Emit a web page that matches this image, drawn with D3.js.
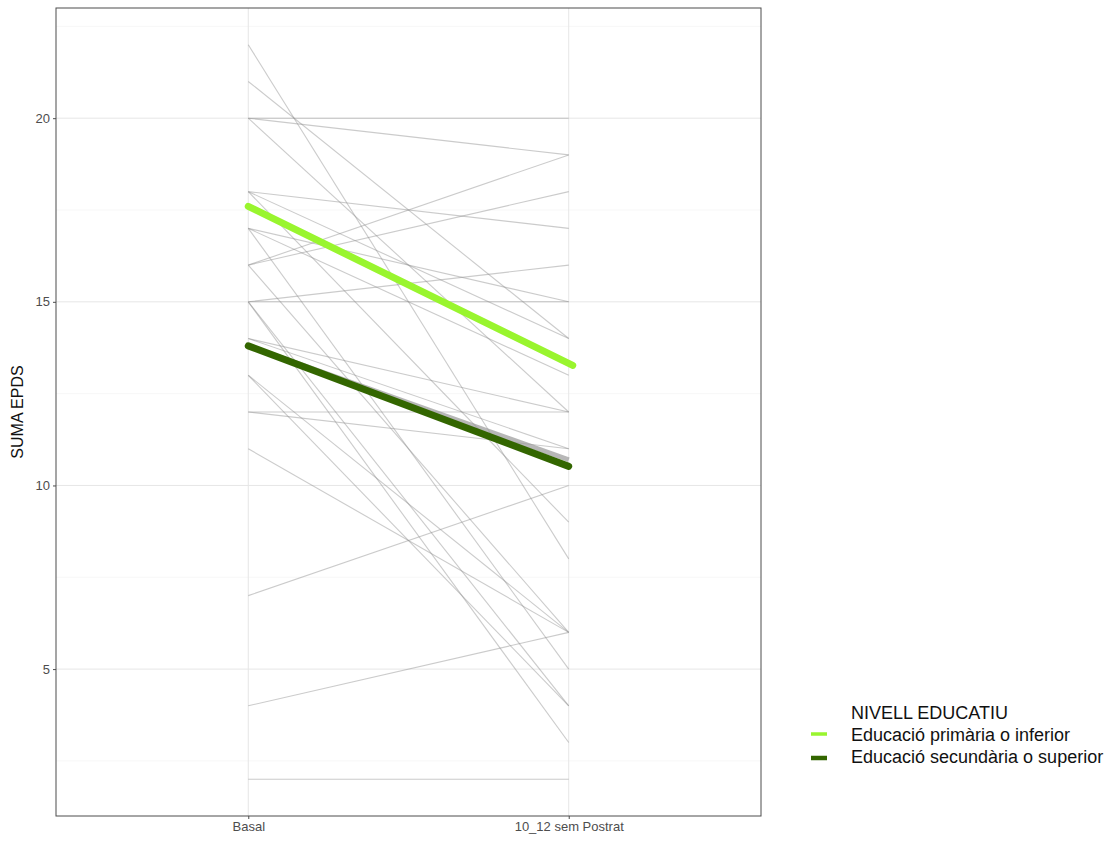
<!DOCTYPE html>
<html>
<head>
<meta charset="utf-8">
<script src="https://cdn.jsdelivr.net/npm/d3@7"></script>
<style>
  body { margin: 0; background: #fff; }
  text { font-family: "Liberation Sans", Arial, sans-serif; }
</style>
</head>
<body>
<div id="chart"></div>
<script>
// timepoints on the x axis
const times = ["Basal", "10_12 sem Postrat"];

// individual EPDS scores: [basal, postpartum]
const basalScores = [22, 21, 20, 20, 20, 18, 18, 18, 17, 17, 17, 16, 16, 16, 15, 15, 15, 15, 14, 14, 13, 13, 12, 12, 11, 7, 4, 2];
const postScores  = [ 8, 14, 20, 19, 12, 17, 14,  9, 13, 15,  5, 19, 18,  6, 16, 15,  4,  3, 12, 11,  4,  6, 12, 11,  6, 10, 6, 2];

// group trend lines
const groups = ["Educació primària o inferior", "Educació secundària o superior"];
const groupStart = [17.6, 13.8];
const groupEnd = [13.27, 10.52];
const groupColors = ["#99f52e", "#336600"];

const yTicks = [5, 10, 15, 20];

const W = 1109, H = 842;
const margin = { top: 8, right: 348, bottom: 26, left: 56 };
const width = W - margin.left - margin.right;
const height = H - margin.top - margin.bottom;

const svg = d3.select("#chart").append("svg")
  .attr("width", W)
  .attr("height", H);

const g = svg.append("g")
  .attr("transform", "translate(" + margin.left + "," + margin.top + ")");

// discrete x scale with ggplot-style 0.6 expansion
const xScale = d3.scaleLinear()
  .domain([0.4, 2.6])
  .range([0, width]);
const xPos = t => xScale(times.indexOf(t) + 1);

const yScale = d3.scaleLinear()
  .domain([1, 23])
  .range([height, 0]);

// minor grid
const minor = [2.5, 7.5, 12.5, 17.5, 22.5];
g.selectAll(".minor").data(minor).enter().append("line")
  .attr("x1", 0).attr("x2", width)
  .attr("y1", d => yScale(d)).attr("y2", d => yScale(d))
  .attr("stroke", "#f2f2f2").attr("stroke-width", 0.6);

// major grid
g.selectAll(".major").data(yTicks).enter().append("line")
  .attr("x1", 0).attr("x2", width)
  .attr("y1", d => yScale(d)).attr("y2", d => yScale(d))
  .attr("stroke", "#e6e6e6").attr("stroke-width", 1);

g.selectAll(".vgrid").data(times).enter().append("line")
  .attr("x1", d => xPos(d)).attr("x2", d => xPos(d))
  .attr("y1", 0).attr("y2", height)
  .attr("stroke", "#e6e6e6").attr("stroke-width", 1);

// individual lines
const pairs = basalScores.map((b, i) => [b, postScores[i]]);
g.selectAll(".indiv").data(pairs).enter().append("line")
  .attr("x1", xPos(times[0]))
  .attr("x2", xPos(times[1]))
  .attr("y1", d => yScale(d[0]))
  .attr("y2", d => yScale(d[1]))
  .attr("stroke", "#8c8c8c")
  .attr("stroke-opacity", 0.45)
  .attr("stroke-width", 1.1);

// grey band under the secondary-level trend
g.append("line")
  .attr("x1", xPos(times[0])).attr("x2", xPos(times[1]))
  .attr("y1", yScale(groupStart[1])).attr("y2", yScale(10.7))
  .attr("stroke", "#999").attr("stroke-opacity", 0.7)
  .attr("stroke-width", 5);

// group trend lines
g.selectAll(".trend").data(groups).enter().append("line")
  .attr("x1", xPos(times[0]))
  .attr("x2", (d, i) => xPos(times[1]) + (i === 0 ? 4 : 0))
  .attr("y1", (d, i) => yScale(groupStart[i]))
  .attr("y2", (d, i) => yScale(groupEnd[i]))
  .attr("stroke", (d, i) => groupColors[i])
  .attr("stroke-width", 7)
  .attr("stroke-linecap", "round");

// panel border
g.append("rect")
  .attr("width", width).attr("height", height)
  .attr("fill", "none")
  .attr("stroke", "#4d4d4d").attr("stroke-width", 1);

// axes
const yAxis = d3.axisLeft(yScale).tickValues(yTicks).tickSize(3).tickPadding(3);
const yg = g.append("g").call(yAxis);
yg.select(".domain").remove();
yg.selectAll("line").attr("stroke", "#4d4d4d");
yg.selectAll("text").attr("fill", "#4d4d4d").style("font-size", "13px");

const xAxis = d3.axisBottom(d3.scalePoint().domain(times).range([xPos(times[0]), xPos(times[1])]))
  .tickSize(3).tickPadding(3);
const xg = g.append("g").attr("transform", "translate(0," + height + ")").call(xAxis);
xg.select(".domain").remove();
xg.selectAll("line").attr("stroke", "#4d4d4d");
xg.selectAll("text").attr("fill", "#4d4d4d").style("font-size", "13px");

// y title
svg.append("text")
  .attr("transform", "translate(23," + (margin.top + height / 2) + ") rotate(-90)")
  .attr("text-anchor", "middle")
  .style("font-size", "16px")
  .attr("fill", "#111")
  .text("SUMA EPDS");

// legend
const lg = svg.append("g").attr("transform", "translate(808,713)");
lg.append("text")
  .attr("x", 43).attr("y", 6)
  .style("font-size", "18px")
  .attr("fill", "#111")
  .text("NIVELL EDUCATIU");
lg.selectAll(".key").data(groups).enter().append("line")
  .attr("x1", 3).attr("x2", 19)
  .attr("y1", (d, i) => 21 + i * 24).attr("y2", (d, i) => 21 + i * 24)
  .attr("stroke", (d, i) => groupColors[i])
  .attr("stroke-width", (d, i) => i === 0 ? 3.5 : 4.5);
lg.selectAll(".lab").data(groups).enter().append("text")
  .attr("x", 43).attr("y", (d, i) => 28 + i * 22)
  .style("font-size", "18px")
  .attr("fill", "#111")
  .text(d => d);
</script>
</body>
</html>
